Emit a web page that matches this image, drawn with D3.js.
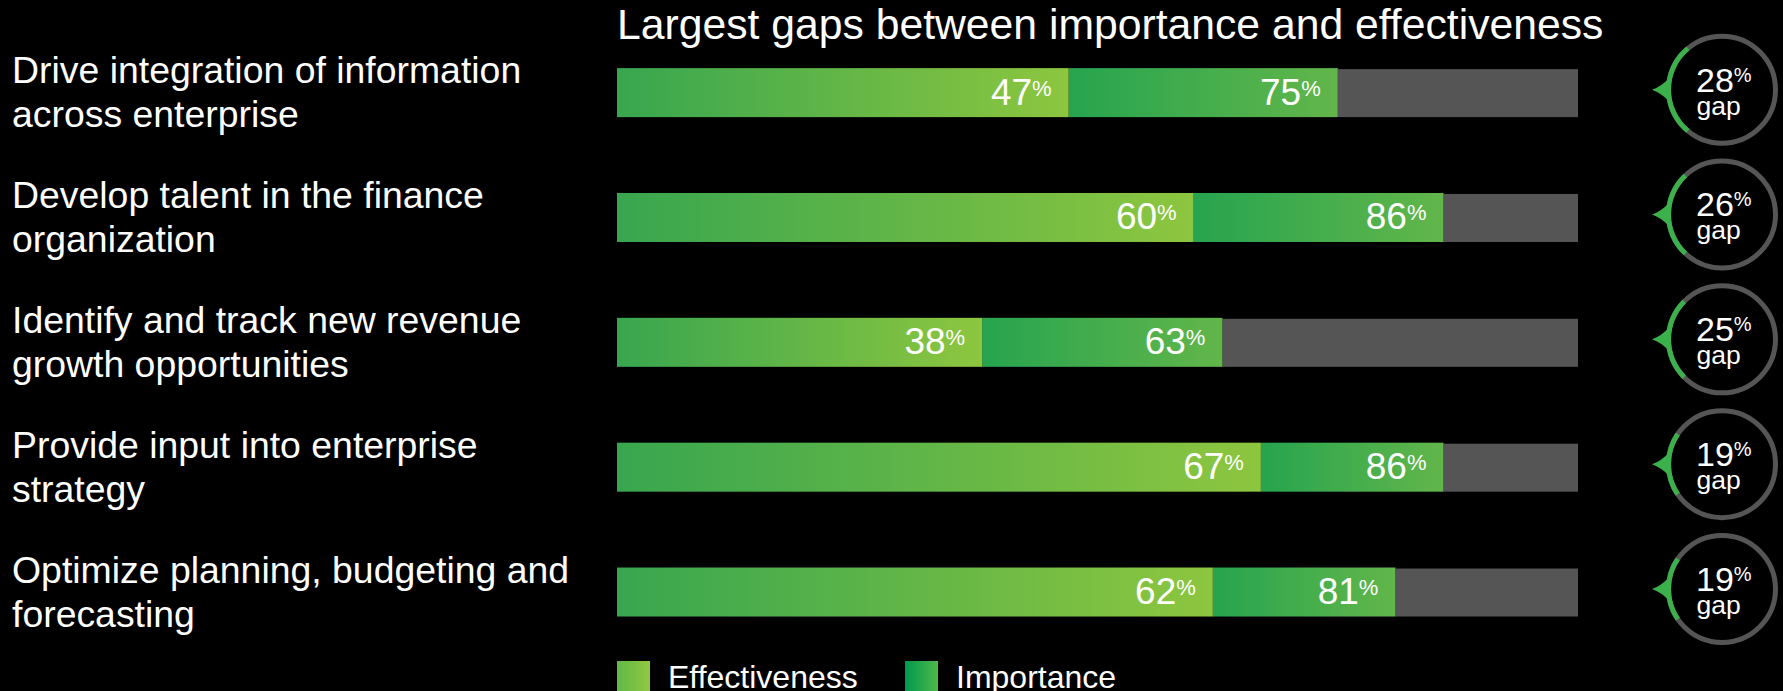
<!DOCTYPE html>
<html>
<head>
<meta charset="utf-8">
<script src="https://cdn.jsdelivr.net/npm/d3@7"></script>
<style>
  html, body { margin: 0; padding: 0; background: #000; }
  svg { display: block; }
  text { font-family: "Liberation Sans", Arial, Helvetica, sans-serif; fill: #fff; }
</style>
</head>
<body>
<svg id="chart" width="1783" height="691"></svg>
<script>
// ---- data ----
const categories = [
  "Drive integration of information across enterprise",
  "Develop talent in the finance organization",
  "Identify and track new revenue growth opportunities",
  "Provide input into enterprise strategy",
  "Optimize planning, budgeting and forecasting"
];
const labelLines = [
  ["Drive integration of information", "across enterprise"],
  ["Develop talent in the finance", "organization"],
  ["Identify and track new revenue", "growth opportunities"],
  ["Provide input into enterprise", "strategy"],
  ["Optimize planning, budgeting and", "forecasting"]
];
const effectiveness = [47, 60, 38, 67, 62];
const importance = [75, 86, 63, 86, 81];
const gaps = [28, 26, 25, 19, 19];
const seriesNames = ["Effectiveness", "Importance"];
const title = "Largest gaps between importance and effectiveness";

// ---- layout ----
const svg = d3.select("#chart");
const x = d3.scaleLinear().domain([0, 100]).range([617, 1578]);
const y = d3.scaleBand().domain(categories).range([30.2, 654.45]).padding(0);
const barH = 49;
const cy = c => y(c) + y.bandwidth() / 2;

const defs = svg.append("defs");
function grad(id, c1, c2) {
  const g = defs.append("linearGradient").attr("id", id)
    .attr("x1", "0%").attr("x2", "100%").attr("y1", "0%").attr("y2", "0%");
  g.append("stop").attr("offset", "0%").attr("stop-color", c1);
  g.append("stop").attr("offset", "100%").attr("stop-color", c2);
}
grad("gEff", "#38a64f", "#8dc63f");
grad("gImp", "#27a44f", "#62b64a");
grad("gEffLeg", "#5fb847", "#90c840");
grad("gImpLeg", "#00994f", "#4fb749");

// title
svg.append("text").attr("x", 617).attr("y", 39)
  .attr("font-size", 42.7).text(title);

const rows = categories.map((c, i) => ({
  c, lines: labelLines[i], eff: effectiveness[i], imp: importance[i], gap: gaps[i]
}));

const row = svg.selectAll("g.row").data(rows).join("g").attr("class", "row");

// category labels
row.append("text")
  .attr("x", 12)
  .attr("font-size", 37.4)
  .selectAll("tspan").data(d => d.lines.map((l, k) => ({ l, k, d })))
  .join("tspan")
  .attr("x", 12)
  .attr("y", t => cy(t.d.c) - 9.3 + t.k * 44)
  .text(t => t.l);

// grey remainder
row.append("rect")
  .attr("x", d => x(d.imp))
  .attr("y", d => cy(d.c) - barH / 2 + 1)
  .attr("width", d => x(100) - x(d.imp))
  .attr("height", barH - 1)
  .attr("fill", "#555555");

// importance segment
row.append("rect")
  .attr("x", d => x(d.eff))
  .attr("y", d => cy(d.c) - barH / 2)
  .attr("width", d => x(d.imp) - x(d.eff))
  .attr("height", barH)
  .attr("fill", "url(#gImp)");

// effectiveness segment
row.append("rect")
  .attr("x", x(0))
  .attr("y", d => cy(d.c) - barH / 2)
  .attr("width", d => x(d.eff) - x(0))
  .attr("height", barH)
  .attr("fill", "url(#gEff)");

// value labels
function valueLabel(sel, key) {
  const t = sel.append("text")
    .attr("x", d => x(d[key]) - 17)
    .attr("y", d => cy(d.c) + 12)
    .attr("text-anchor", "end")
    .attr("font-size", 37);
  t.append("tspan").text(d => d[key]);
  t.append("tspan").attr("font-size", 22).attr("dy", -9).text("%");
}
valueLabel(row, "eff");
valueLabel(row, "imp");

// gap circles
const cx0 = 1722, R = 53.5, sw = 5;
const arc = d3.arc();
row.each(function (d) {
  const g = d3.select(this).append("g")
    .attr("transform", `translate(${cx0},${cy(d.c) - 3})`);
  g.append("circle").attr("r", R).attr("fill", "none")
    .attr("stroke", "#555555").attr("stroke-width", sw);
  const half = d.gap / 100 * Math.PI; // half span in radians
  const center = -Math.PI / 2;
  g.append("path")
    .attr("d", arc({ innerRadius: R - sw / 2, outerRadius: R + sw / 2,
      startAngle: center - half, endAngle: center + half }))
    .attr("fill", "#3cb04a");
  const base = -R + 1, tip = -R - 16.5;
  g.append("path")
    .attr("d", `M${tip},0 Q${tip + 9},-3 ${base},-12 L${base},12 Q${tip + 9},3 ${tip},0 Z`)
    .attr("fill", "#3cb04a");
  const t = g.append("text").attr("x", -26).attr("y", 2).attr("font-size", 34);
  t.append("tspan").text(d.gap);
  t.append("tspan").attr("font-size", 20).attr("dy", -10).text("%");
  g.append("text").attr("x", -25.5).attr("y", 25).attr("font-size", 26.5).text("gap");
});

// legend
const legend = svg.append("g");
const legItems = [
  { name: seriesNames[0], fill: "url(#gEffLeg)", x: 617 },
  { name: seriesNames[1], fill: "url(#gImpLeg)", x: 905 }
];
const li = legend.selectAll("g").data(legItems).join("g")
  .attr("transform", d => `translate(${d.x},0)`);
li.append("rect").attr("x", 0).attr("y", 661).attr("width", 33).attr("height", 34)
  .attr("fill", d => d.fill);
li.append("text").attr("x", 51).attr("y", 688).attr("font-size", 32).text(d => d.name);
</script>
</body>
</html>
